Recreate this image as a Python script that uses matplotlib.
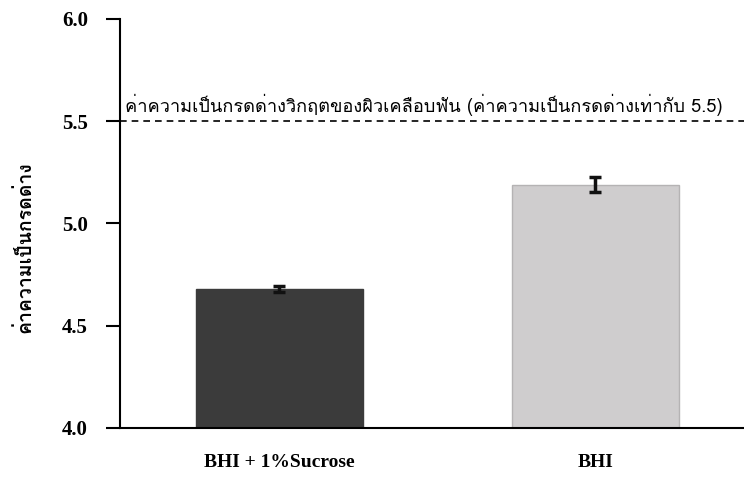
import matplotlib
matplotlib.use('Agg')
import matplotlib.pyplot as plt
from matplotlib import font_manager
from matplotlib.ft2font import FT2Font

# pick an installed font that has Thai glyphs
thai_font = None
for f in font_manager.fontManager.ttflist:
    try:
        if 0x0E04 in FT2Font(f.fname).get_charmap():
            thai_font = f.name
            break
    except Exception:
        pass
thai_family = [thai_font, 'DejaVu Sans'] if thai_font else ['DejaVu Sans']

groups = ['BHI + 1%Sucrose', 'BHI']
ph_mean = [4.68, 5.19]
ph_err = [0.015, 0.035]
critical_ph = 5.5
bar_colors = ['#3b3b3b', '#cfcdce']
y_ticks = [4.0, 4.5, 5.0, 5.5, 6.0]

fig = plt.figure(figsize=(7.44, 4.83), dpi=100)
ax = fig.add_axes([0.161, 0.114, 0.839, 0.847])

x = range(len(groups))
ax.bar(x, ph_mean, width=0.53, color=bar_colors,
       edgecolor=['#3b3b3b', '#b5b3b4'], linewidth=1, zorder=2)
ax.errorbar(x, ph_mean, yerr=ph_err, fmt='none', ecolor='#111111',
            elinewidth=2.5, capsize=4, capthick=2.5, zorder=3)

ax.axhline(critical_ph, color='black', linestyle=(0, (4, 3)), linewidth=1.2, zorder=1)
ax.text(-0.49, critical_ph + 0.025,
        'ค่าความเป็นกรดด่างวิกฤตของผิวเคลือบฟัน (ค่าความเป็นกรดด่างเท่ากับ 5.5)',
        family=thai_family, fontsize=13.1, va='bottom', ha='left')

ax.set_xlim(-0.505, 1.47)
ax.set_ylim(4.0, 6.0)
ax.set_yticks(y_ticks)
ax.set_yticklabels([f'{t:.1f}' for t in y_ticks], family='Liberation Serif',
                   fontweight='bold', fontsize=15)
ax.set_xticks(list(x))
ax.set_xticklabels(groups, family='Liberation Serif', fontweight='bold', fontsize=14)
ax.tick_params(axis='x', length=0, pad=19)
ax.tick_params(axis='y', length=10, width=1.5, direction='out', pad=13)

ax.set_ylabel('ค่าความเป็นกรดด่าง', family=thai_family, fontweight='bold', fontsize=14)
ax.yaxis.set_label_coords(-0.137, 0.443)

for side in ['top', 'right']:
    ax.spines[side].set_visible(False)
ax.spines['left'].set_linewidth(1.5)
ax.spines['bottom'].set_linewidth(1.5)

fig.savefig('out.png', dpi=100)
